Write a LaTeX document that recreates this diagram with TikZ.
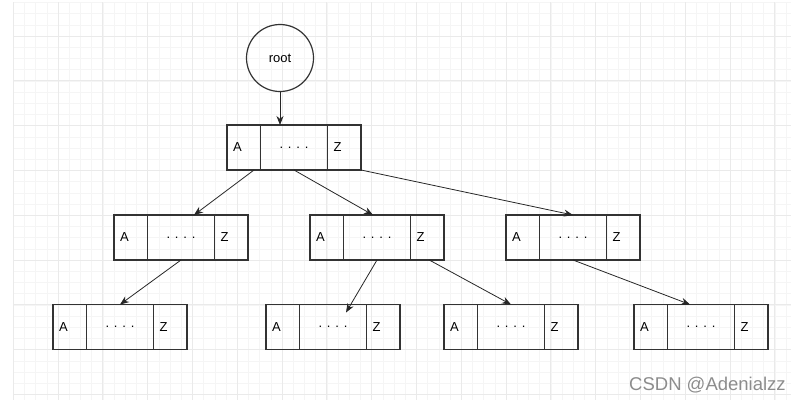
\documentclass[tikz,border=0pt]{standalone}
\usepackage{fontspec}
\setmainfont{Liberation Sans}
\usetikzlibrary{positioning,arrows.meta}
\definecolor{gridminor}{HTML}{F5F5F5}
\definecolor{gridmajor}{HTML}{EAEAEA}
\tikzset{
  cell/.style={draw=black!80, line width=1.2pt, minimum height=45pt, inner sep=0pt, outer sep=0pt, font=\fontsize{13}{15}\selectfont},
  endcell/.style={cell, minimum width=33.5pt, text width=21.5pt, inner xsep=6pt, align=left},
  midcell/.style={cell, minimum width=67pt},
  link/.style={->, >={Stealth[length=9pt,width=7pt]}, draw=black!85, line width=0.8pt},
}
% one B-tree box: A | .... | Z, #2 is the west end of the A cell
\newcommand{\bnode}[2]{%
  \node[endcell, anchor=west] (#1-a) at #2 {A};
  \node[midcell, right=0pt of #1-a] (#1-m) {. . . .};
  \node[endcell, right=0pt of #1-m] (#1-z) {Z};
}
\begin{document}
\begin{tikzpicture}[x=1pt,y=-1pt]
  \useasboundingbox (0,0) rectangle (802,402);
  % background grid
  \foreach \i in {0,...,69} \draw[gridminor, line width=0.6pt] (13.2+11.2*\i,2) -- (13.2+11.2*\i,400);
  \foreach \j in {0,...,35} \draw[gridminor, line width=0.6pt] (13,2.4+11.2*\j) -- (791,2.4+11.2*\j);
  \foreach \i in {0,...,17} \draw[gridmajor, line width=0.8pt] (13.2+44.8*\i,2) -- (13.2+44.8*\i,400);
  \foreach \j in {0,...,8} \draw[gridmajor, line width=0.8pt] (13,36+44.8*\j) -- (791,36+44.8*\j);

  \node[draw=black!80, line width=1.2pt, circle, minimum size=67pt, font=\fontsize{13}{15}\selectfont] (root) at (280,58) {root};

  \bnode{top}{(227,147.5)}
  \bnode{b1}{(114,237.5)}
  \bnode{b2}{(310,237.5)}
  \bnode{b3}{(506,237.5)}
  \bnode{c1}{(53,327)}
  \bnode{c2}{(266,327)}
  \bnode{c3}{(444,327)}
  \bnode{c4}{(634,327)}

  \draw[link] (root) -- (root |- top-m.north);
  \draw[link] ([xshift=-6.5pt]top-a.south east) -- ([xshift=13pt]b1-m.north);
  \draw[link] (top-m.south) -- ([xshift=-4pt]b2-m.north);
  \draw[link] (top-z.south east) -- (b3-m.north);
  \draw[link] (b1-m.south) -- (c1-m.north);
  \draw[link] (b2-m.south) -- ([xshift=13pt,yshift=-8pt]c2-m.north);
  \draw[link] ([xshift=2pt]b2-z.south) -- (c3-m.north);
  \draw[link] (b3-m.south) -- ([xshift=-11pt]c4-m.north);

  \node[anchor=base west, text=black!45, font=\fontsize{18.5}{20}\selectfont, inner sep=0pt] (mark) at (629,390) {CSDN @Adenialzz};
\end{tikzpicture}
\end{document}
